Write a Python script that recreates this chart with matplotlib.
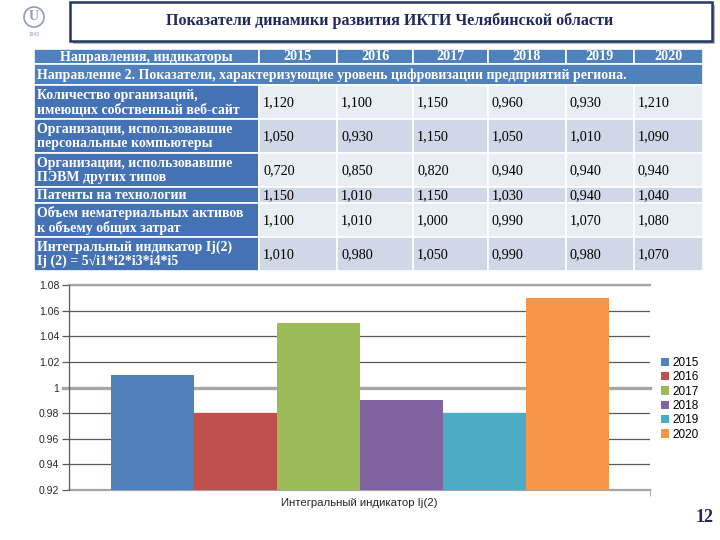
import matplotlib
matplotlib.use("Agg")
import matplotlib.pyplot as plt
from matplotlib.patches import Rectangle, Circle
from matplotlib.ticker import FuncFormatter, FixedLocator

SERIF = ["Liberation Serif", "DejaVu Serif"]
SANS = ["Liberation Sans", "DejaVu Sans"]

NAVY = "#1F2A5A"
HEAD_BLUE = "#4F81BD"
FIRST_COL = "#4472B4"
BAND_LIGHT = "#E9EDF4"
BAND_DARK = "#D0D8E8"

# data
years = ["2015", "2016", "2017", "2018", "2019", "2020"]
header_label = "Направления, индикаторы"
direction_label = "Направление 2. Показатели, характеризующие уровень цифровизации предприятий региона."
indicators = [
    "Количество организаций,\nимеющих собственный веб-сайт",
    "Организации, использовавшие\nперсональные компьютеры",
    "Организации, использовавшие\nПЭВМ других типов",
    "Патенты на технологии",
    "Объем нематериальных активов\nк объему общих затрат",
    "Интегральный индикатор Ij(2)\nIj (2) = 5√i1*i2*i3*i4*i5",
]
website = [1.120, 1.100, 1.150, 0.960, 0.930, 1.210]
pcs = [1.050, 0.930, 1.150, 1.050, 1.010, 1.090]
other_pc = [0.720, 0.850, 0.820, 0.940, 0.940, 0.940]
patents = [1.150, 1.010, 1.150, 1.030, 0.940, 1.040]
intangible = [1.100, 1.010, 1.000, 0.990, 1.070, 1.080]
integral = [1.010, 0.980, 1.050, 0.990, 0.980, 1.070]
table_rows = [website, pcs, other_pc, patents, intangible, integral]

category = "Интегральный индикатор Ij(2)"
bar_colors = ["#4F81BD", "#C0504D", "#9BBB59", "#8064A2", "#4BACC6", "#F79646"]
y_ticks = [0.92, 0.94, 0.96, 0.98, 1.00, 1.02, 1.04, 1.06, 1.08]

fig = plt.figure(figsize=(7.2, 5.4), dpi=100, facecolor="white")

# overlay in pixel coordinates for title, table, decorations
ov = fig.add_axes([0, 0, 1, 1])
ov.set_xlim(0, 720)
ov.set_ylim(540, 0)
ov.axis("off")

# logo (simplified crest)
ov.add_patch(Circle((34, 17), 10, facecolor="none", edgecolor="#8C9DB8", lw=1.2))
ov.text(34, 17, "U", color="#8C9DB8", ha="center", va="center", fontsize=10, weight="bold", family=SERIF)
ov.text(34, 35, "1943", color="#8C9DB8", ha="center", va="center", fontsize=3.5, family=SANS)

# title box with shadow
ov.add_patch(Rectangle((73, 5), 642, 39, facecolor="#B0B4BC", edgecolor="none"))
ov.add_patch(Rectangle((70, 2), 642, 39, facecolor="white", edgecolor="#1F3864", lw=1.8))
ov.text(390, 21, "Показатели динамики развития ИКТИ Челябинской области", color=NAVY,
        ha="center", va="center", fontsize=11.6, weight="bold", family=SERIF)

# table
xs = [34, 259, 337, 413, 488, 566, 634, 703]
ys = [49, 64, 85, 119, 153, 187, 203, 237, 271]
GRID = dict(edgecolor="white", lw=1.2)

# header
for c in range(7):
    ov.add_patch(Rectangle((xs[c], ys[0]), xs[c + 1] - xs[c], ys[1] - ys[0], facecolor=HEAD_BLUE, **GRID))
    label = header_label if c == 0 else years[c - 1]
    ov.text((xs[c] + xs[c + 1]) / 2, (ys[0] + ys[1]) / 2 + 0.5, label, color="white", ha="center",
            va="center", fontsize=10.2, weight="bold", family=SERIF)

# direction row
ov.add_patch(Rectangle((xs[0], ys[1]), xs[-1] - xs[0], ys[2] - ys[1], facecolor=HEAD_BLUE, **GRID))
ov.text(xs[0] + 3, (ys[1] + ys[2]) / 2 + 0.5, direction_label, color="white", ha="left", va="center",
        fontsize=10, weight="bold", family=SERIF)

for r, (name, vals) in enumerate(zip(indicators, table_rows)):
    y0, y1 = ys[r + 2], ys[r + 3]
    yc = (y0 + y1) / 2 + 0.5
    band = BAND_LIGHT if r % 2 == 0 else BAND_DARK
    ov.add_patch(Rectangle((xs[0], y0), xs[1] - xs[0], y1 - y0, facecolor=FIRST_COL, **GRID))
    ov.text(xs[0] + 3, yc, name, color="white", ha="left", va="center", fontsize=10,
            weight="bold", family=SERIF, linespacing=1.12)
    for c, v in enumerate(vals):
        ov.add_patch(Rectangle((xs[c + 1], y0), xs[c + 2] - xs[c + 1], y1 - y0, facecolor=band, **GRID))
        ov.text(xs[c + 1] + 4, yc, f"{v:.3f}".replace(".", ","), color="black", ha="left",
                va="center", fontsize=10.2, family=SERIF)

ov.text(705, 518, "12", color=NAVY, ha="center", va="center", fontsize=13, weight="bold", family=SERIF)

# bar chart
ax = fig.add_axes([69 / 720, 50 / 540, 581 / 720, 205 / 540])
n = len(years)
group = 498 / 581
w = group / n
for i, (yr, v, col) in enumerate(zip(years, integral, bar_colors)):
    ax.bar(-group / 2 + (i + 0.5) * w, v - 0.92, width=w, bottom=0.92, color=col, label=yr,
           linewidth=0, zorder=3)

ax.set_xlim(-0.5, 0.5)
ax.set_ylim(0.92, 1.08)
ax.yaxis.set_major_locator(FixedLocator(y_ticks))
ax.yaxis.set_major_formatter(FuncFormatter(lambda v, p: f"{v:g}"))
ax.set_xticks([0])
ax.set_xticklabels([category], fontsize=8.2, family=SANS, color="#262626")
ax.xaxis.set_minor_locator(FixedLocator([0.5]))
ax.tick_params(axis="x", which="major", length=0, pad=6)
ax.tick_params(axis="x", which="minor", length=4, color="#A6A6A6", direction="out")
ax.tick_params(axis="y", length=5, width=0.9, color="#595959", pad=2, labelsize=7.5, labelcolor="#262626")
for lab in ax.get_yticklabels():
    lab.set_family(SANS)

for s in ["top", "right", "bottom"]:
    ax.spines[s].set_visible(False)
ax.spines["left"].set_color("#595959")
ax.spines["left"].set_linewidth(0.9)

ax.yaxis.grid(True, color="#595959", lw=0.9, zorder=1)
ax.set_axisbelow(True)
ax.axhline(1.0, xmin=-6 / 581, xmax=1, color="#A6A6A6", lw=2.4, zorder=2, clip_on=False)
ax.axhline(1.08, color="#A6A6A6", lw=1.6, zorder=2, clip_on=False)
ax.axhline(0.92, color="#A6A6A6", lw=1.6, zorder=2, clip_on=False)

ax.legend(loc="upper left", bbox_to_anchor=(655 / 720, 1 - 351 / 540), bbox_transform=fig.transFigure,
          frameon=False, handlelength=0.7, handleheight=0.7, handletextpad=0.3,
          labelspacing=0.2, borderpad=0, prop={"family": SANS, "size": 8.5})

fig.savefig("out.png", dpi=100, facecolor="white")
plt.close(fig)
